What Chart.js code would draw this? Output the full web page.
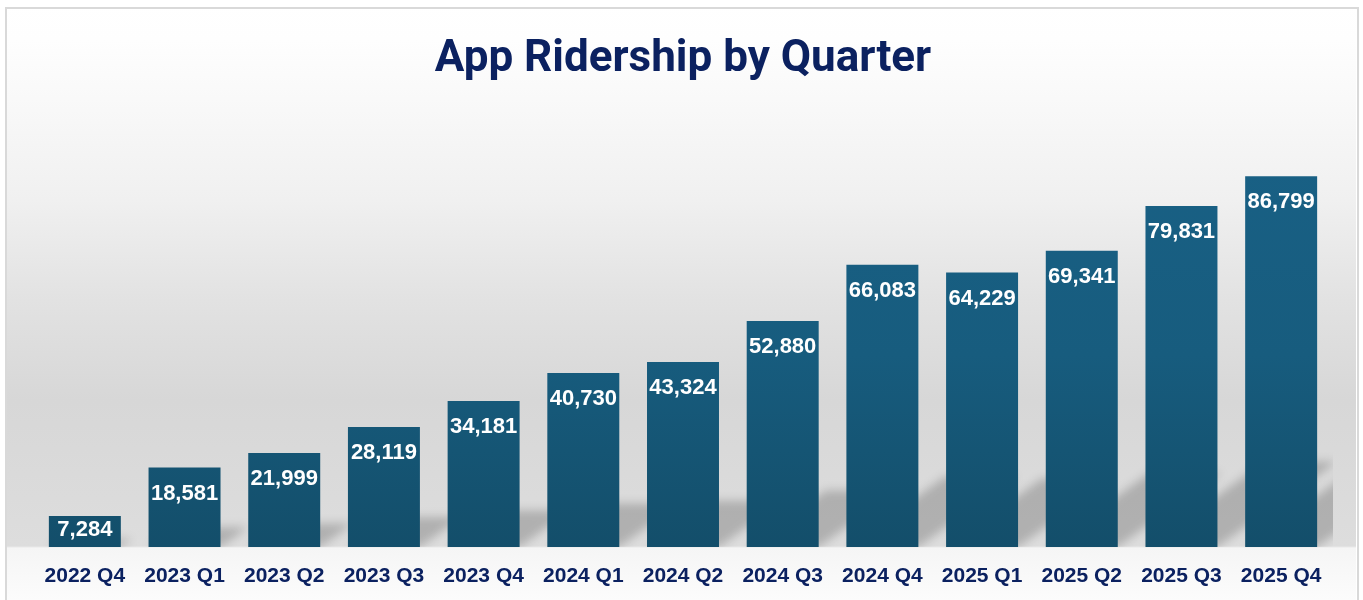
<!DOCTYPE html>
<html>
<head>
<meta charset="utf-8">
<script src="https://cdn.jsdelivr.net/npm/chart.js@4.4.1/dist/chart.umd.min.js"></script>
<style>
  html, body { margin: 0; padding: 0; background: #ffffff; }
  #wrap { width: 1363px; height: 600px; }
</style>
</head>
<body>
<div id="wrap"><canvas id="c" width="1363" height="600"></canvas></div>
<script>
const chartTitle = 'App Ridership by Quarter';
const categories = ['2022 Q4', '2023 Q1', '2023 Q2', '2023 Q3', '2023 Q4', '2024 Q1', '2024 Q2', '2024 Q3', '2024 Q4', '2025 Q1', '2025 Q2', '2025 Q3', '2025 Q4'];
const ridership = [7284, 18581, 21999, 28119, 34181, 40730, 43324, 52880, 66083, 64229, 69341, 79831, 86799];
const yMin = 0;
const yMax = 100000;

const navy = '#0b2160';

const backgroundPlugin = {
  id: 'bgPanel',
  beforeDraw(chart) {
    const { ctx, width, height, chartArea } = chart;
    const base = chartArea.bottom;
    ctx.save();
    ctx.fillStyle = '#ffffff';
    ctx.fillRect(0, 0, width, height);
    const g = ctx.createLinearGradient(0, 0, 0, height);
    const s = y => Math.min(1, Math.max(0, y / height));
    g.addColorStop(0, '#ffffff');
    g.addColorStop(s(40), '#fefefe');
    g.addColorStop(s(110), '#f8f8f8');
    g.addColorStop(s(200), '#f0f0f0');
    g.addColorStop(s(300), '#e2e2e2');
    g.addColorStop(s(400), '#d7d7d7');
    g.addColorStop(s(base - 1), '#dddddd');
    g.addColorStop(s(base + 1), '#f5f5f5');
    g.addColorStop(1, '#fcfcfc');
    ctx.fillStyle = g;
    ctx.fillRect(7, 9, width - 14, height - 9);
    ctx.strokeStyle = '#d9d9d9';
    ctx.lineWidth = 2;
    ctx.strokeRect(6, 8, width - 11, height + 20);
    ctx.restore();
  }
};

const shadowPlugin = {
  id: 'barShadow',
  beforeDatasetsDraw(chart) {
    const { ctx, chartArea } = chart;
    const meta = chart.getDatasetMeta(0);
    ctx.save();
    ctx.beginPath();
    ctx.rect(chartArea.left, chartArea.top, chartArea.right - chartArea.left + 2, chartArea.bottom - chartArea.top);
    ctx.clip();
    ctx.filter = 'blur(5px)';
    ctx.fillStyle = 'rgba(0,0,0,0.20)';
    meta.data.forEach(el => {
      const p = el.getProps(['x', 'y', 'base', 'width'], true);
      const x0 = p.x - p.width / 2, x1 = p.x + p.width / 2;
      const H = p.base - p.y;
      const dx = H * 0.35, dy = H * 0.25;
      ctx.beginPath();
      ctx.moveTo(x0, p.base);
      ctx.lineTo(x1, p.base);
      ctx.lineTo(x1 + dx, p.base - dy);
      ctx.lineTo(x0 + dx, p.base - dy);
      ctx.closePath();
      ctx.fill();
    });
    ctx.restore();
  }
};

const labelPlugin = {
  id: 'barLabels',
  afterDatasetsDraw(chart) {
    const { ctx } = chart;
    const meta = chart.getDatasetMeta(0);
    const values = chart.data.datasets[0].data;
    ctx.save();
    ctx.fillStyle = '#ffffff';
    ctx.font = 'bold 22px "Liberation Sans", Arial, sans-serif';
    ctx.textAlign = 'center';
    ctx.textBaseline = 'middle';
    meta.data.forEach((el, i) => {
      const p = el.getProps(['x', 'y', 'base'], true);
      const H = p.base - p.y;
      const off = Math.min(26, H / 2 - 2);
      ctx.fillText(values[i].toLocaleString('en-US'), p.x, p.y + off);
    });
    ctx.restore();
  }
};

function barFill(context) {
  const chart = context.chart;
  const area = chart.chartArea;
  if (!area) return '#175c7e';
  const g = chart.ctx.createLinearGradient(0, area.top, 0, area.bottom);
  g.addColorStop(0, '#196186');
  g.addColorStop(0.55, '#175c7e');
  g.addColorStop(1, '#134e6a');
  return g;
}

new Chart(document.getElementById('c'), {
  type: 'bar',
  data: {
    labels: categories,
    datasets: [{
      data: ridership,
      backgroundColor: barFill,
      borderWidth: 0,
      barPercentage: 0.722,
      categoryPercentage: 1.0
    }]
  },
  options: {
    responsive: false,
    animation: false,
    devicePixelRatio: 1,
    layout: { padding: { left: 35, right: 32, top: 8, bottom: 11 } },
    plugins: {
      legend: { display: false },
      tooltip: { enabled: false },
      title: {
        display: true,
        text: chartTitle,
        color: navy,
        font: { family: 'Roboto', size: 44, weight: 'bold' },
        padding: { top: 26, bottom: 33 }
      }
    },
    scales: {
      y: { display: false, min: yMin, max: yMax },
      x: {
        grid: { display: false, drawTicks: false },
        border: { display: false },
        afterFit(scale) { scale.height = 42; },
        ticks: {
          color: navy,
          padding: 17,
          font: { family: 'Liberation Sans', size: 21, weight: 'bold' }
        }
      }
    }
  },
  plugins: [backgroundPlugin, shadowPlugin, labelPlugin]
});
</script>
</body>
</html>
